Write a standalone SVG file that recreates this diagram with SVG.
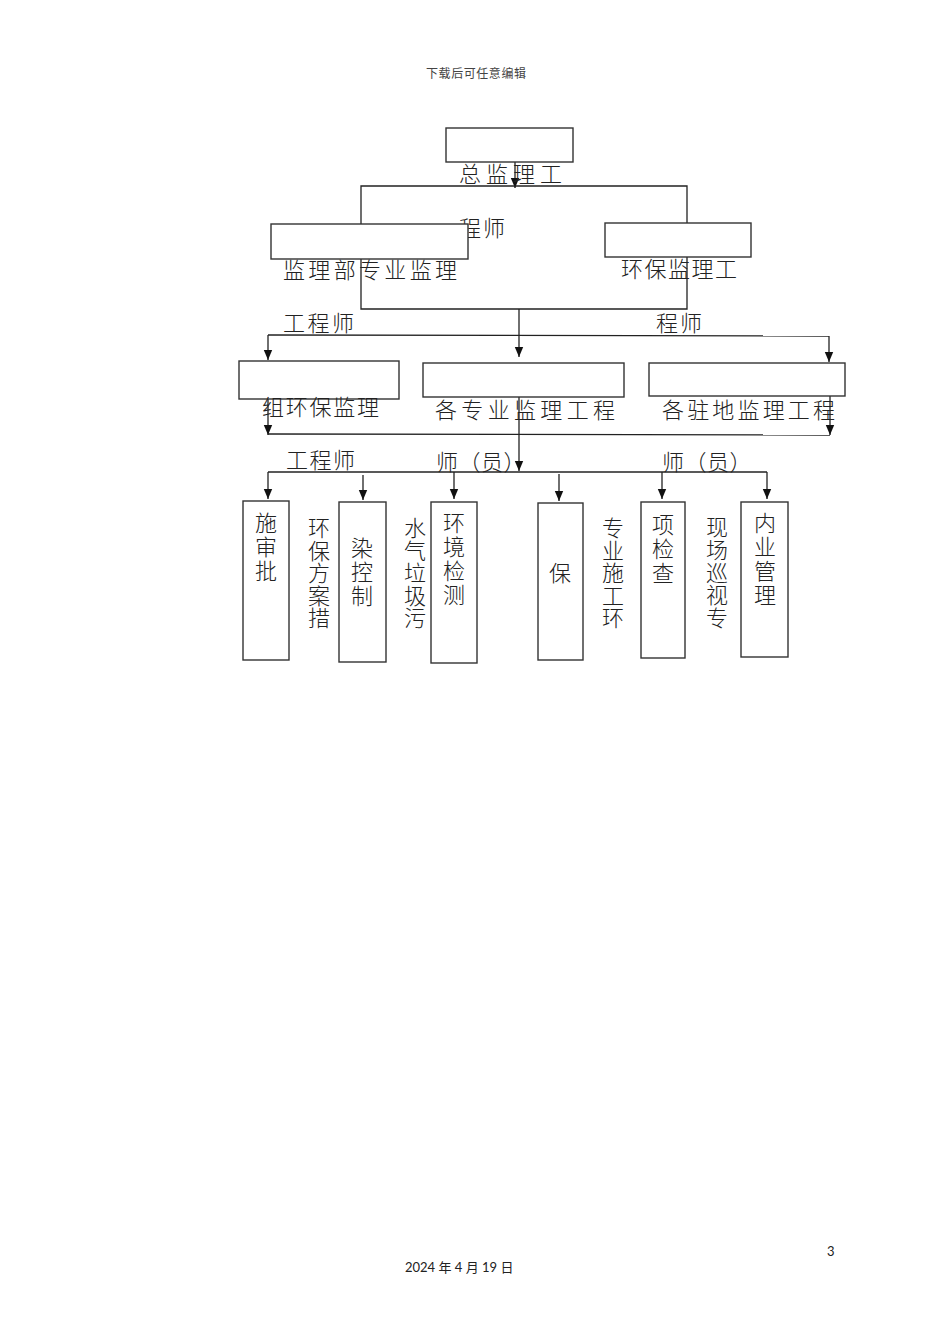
<svg xmlns="http://www.w3.org/2000/svg" width="950" height="1344" viewBox="0 0 950 1344">
<defs>
<marker id="ah" markerUnits="userSpaceOnUse" markerWidth="10" markerHeight="10" refX="10" refY="5" orient="auto">
<path d="M0,0.8 L10,5 L0,9.2 z" fill="#111"/>
</marker>
<style>
.bx{fill:#fff;stroke:#333;stroke-width:1.4}
.ln{fill:none;stroke:#222;stroke-width:1.3}
.ar{fill:none;stroke:#222;stroke-width:1.3;marker-end:url(#ah)}
.t{font-family:"Noto Sans CJK SC","Noto Sans",sans-serif;font-size:22px;font-weight:300;fill:#222}
.v{font-family:"Noto Sans CJK SC","Noto Sans",sans-serif;font-size:22px;font-weight:300;fill:#222;text-anchor:middle}
.hd{font-family:"Noto Sans CJK SC",sans-serif;font-size:12px;fill:#444}
.ft{font-family:Lato,"Noto Sans CJK SC",sans-serif;font-size:13px;fill:#222}
</style>
</defs>
<rect width="950" height="1344" fill="#fff"/>
<text class="hd" x="426" y="78" textLength="100">下载后可任意编辑</text>

<g id="connectors">
<line class="ar" x1="515" y1="162" x2="515" y2="188"/>
<polyline class="ln" points="361,224 361,186 687,186 687,223"/>
<polyline class="ln" points="361,259 361,309 687,309 687,257"/>
<line class="ar" x1="519" y1="309" x2="519" y2="357"/>
<line class="ln" x1="268" y1="335" x2="829" y2="336"/>
<line class="ar" x1="268" y1="335" x2="268" y2="360"/>
<line class="ar" x1="829" y1="336" x2="829" y2="362"/>
<line class="ar" x1="268" y1="399" x2="268" y2="435"/>
<line class="ar" x1="830" y1="396" x2="830" y2="435"/>
<line class="ln" x1="268" y1="434" x2="830" y2="435"/>
<line class="ar" x1="519" y1="397" x2="519" y2="471"/>
<line class="ln" x1="268" y1="472" x2="767" y2="472"/>
<line class="ar" x1="268" y1="472" x2="268" y2="499"/>
<line class="ar" x1="363" y1="475" x2="363" y2="500"/>
<line class="ar" x1="454" y1="472" x2="454" y2="499"/>
<line class="ar" x1="559" y1="474" x2="559" y2="501"/>
<line class="ar" x1="662" y1="472" x2="662" y2="499"/>
<line class="ar" x1="767" y1="472" x2="767" y2="499"/>
</g>

<g id="n-chief">
<rect class="bx" x="446" y="128" width="127" height="34"/>
<text class="t" x="459" y="182" textLength="103">总监理工</text>
<text class="t" x="459" y="236" textLength="46">程师</text>
</g>
<g id="n-dept">
<rect class="bx" x="271" y="224" width="197" height="35"/>
<text class="t" x="283" y="278" textLength="174">监理部专业监理</text>
<text class="t" x="283" y="331" textLength="71">工程师</text>
</g>
<g id="n-env">
<rect class="bx" x="605" y="223" width="146" height="34"/>
<text class="t" x="621" y="277" textLength="116">环保监理工</text>
<text class="t" x="656" y="331" textLength="46">程师</text>
</g>
<g id="n-group">
<rect class="bx" x="239" y="361" width="160" height="38"/>
<text class="t" x="262" y="415" textLength="117">组环保监理</text>
<text class="t" x="286" y="468" textLength="69">工程师</text>
</g>
<g id="n-spec">
<rect class="bx" x="423" y="363" width="201" height="34"/>
<text class="t" x="435" y="418" textLength="180">各专业监理工程</text>
<text class="t" x="436" y="470" letter-spacing="0.5">师（员）</text>
</g>
<g id="n-site">
<rect class="bx" x="649" y="363" width="196" height="33"/>
<text class="t" x="662" y="418" textLength="173">各驻地监理工程</text>
<text class="t" x="662" y="470" letter-spacing="0.5">师（员）</text>
</g>

<g id="n-b1">
<rect class="bx" x="243" y="501" width="46" height="159"/>
<text class="v" x="266" y="531"><tspan x="266">施</tspan><tspan x="266" dy="24">审</tspan><tspan x="266" dy="24">批</tspan></text>
</g>
<g id="n-t1">
<text class="v" x="319" y="536"><tspan x="319">环</tspan><tspan x="319" dy="22.5">保</tspan><tspan x="319" dy="22.5">方</tspan><tspan x="319" dy="22.5">案</tspan><tspan x="319" dy="22.5">措</tspan></text>
</g>
<g id="n-b2">
<rect class="bx" x="339" y="502" width="47" height="160"/>
<text class="v" x="362" y="556"><tspan x="362">染</tspan><tspan x="362" dy="24">控</tspan><tspan x="362" dy="24">制</tspan></text>
</g>
<g id="n-t2">
<text class="v" x="415" y="536"><tspan x="415">水</tspan><tspan x="415" dy="22.5">气</tspan><tspan x="415" dy="22.5">垃</tspan><tspan x="415" dy="22.5">圾</tspan><tspan x="415" dy="22.5">污</tspan></text>
</g>
<g id="n-b3">
<rect class="bx" x="431" y="502" width="46" height="161"/>
<text class="v" x="454" y="531"><tspan x="454">环</tspan><tspan x="454" dy="24">境</tspan><tspan x="454" dy="24">检</tspan><tspan x="454" dy="24">测</tspan></text>
</g>
<g id="n-b4">
<rect class="bx" x="538" y="503" width="45" height="157"/>
<text class="v" x="560" y="581">保</text>
</g>
<g id="n-t3">
<text class="v" x="613" y="536"><tspan x="613">专</tspan><tspan x="613" dy="22.5">业</tspan><tspan x="613" dy="22.5">施</tspan><tspan x="613" dy="22.5">工</tspan><tspan x="613" dy="22.5">环</tspan></text>
</g>
<g id="n-b5">
<rect class="bx" x="641" y="502" width="44" height="156"/>
<text class="v" x="663" y="533"><tspan x="663">项</tspan><tspan x="663" dy="24">检</tspan><tspan x="663" dy="24">查</tspan></text>
</g>
<g id="n-t4">
<text class="v" x="717" y="535"><tspan x="717">现</tspan><tspan x="717" dy="22.75">场</tspan><tspan x="717" dy="22.75">巡</tspan><tspan x="717" dy="22.75">视</tspan><tspan x="717" dy="22.75">专</tspan></text>
</g>
<g id="n-b6">
<rect class="bx" x="741" y="502" width="47" height="155"/>
<text class="v" x="765" y="531"><tspan x="765">内</tspan><tspan x="765" dy="24">业</tspan><tspan x="765" dy="24">管</tspan><tspan x="765" dy="24">理</tspan></text>
</g>

<text class="ft" x="827" y="1256">3</text>
<text class="ft" x="405" y="1272">2024 年 4 月 19 日</text>
</svg>
